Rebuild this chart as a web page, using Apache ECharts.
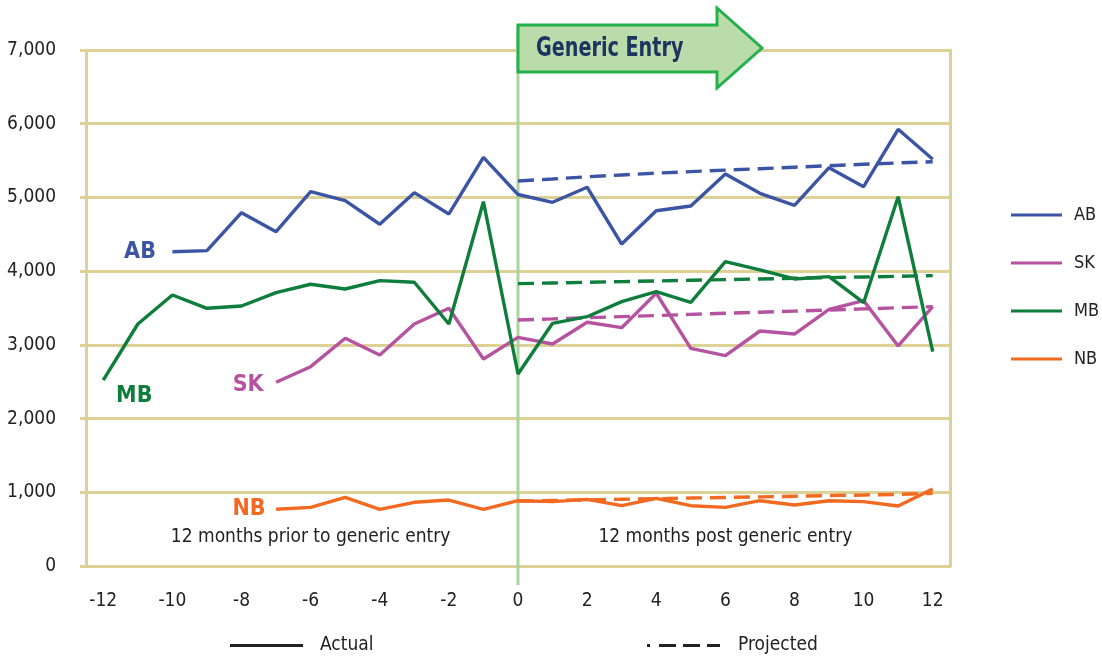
<!DOCTYPE html>
<html>
<head>
<meta charset="utf-8">
<script src="https://cdn.jsdelivr.net/npm/echarts@6/dist/echarts.min.js"></script>
<style>
  html, body { margin: 0; padding: 0; background: #fff; }
  #chart { width: 1102px; height: 656px; }
</style>
</head>
<body>
<div id="chart"></div>
<script>
// months relative to generic entry
const months = ['-12','-11','-10','-9','-8','-7','-6','-5','-4','-3','-2','-1','0','1','2','3','4','5','6','7','8','9','10','11','12']
const yTicks = [0, 1000, 2000, 3000, 4000, 5000, 6000, 7000]

// actual values (null = no data)
const abActual = [null, null, 4264, 4278, 4793, 4535, 5078, 4956, 4636, 5065, 4776, 5544, 5040, 4934, 5138, 4368, 4820, 4884, 5318, 5056, 4893, 5404, 5146, 5924, 5517]
const skActual = [null, null, null, null, null, 2492, 2704, 3089, 2863, 3283, 3496, 2808, 3102, 3012, 3306, 3233, 3700, 2953, 2853, 3188, 3147, 3482, 3600, 2985, 3518]
const mbActual = [2523, 3283, 3676, 3496, 3527, 3708, 3822, 3758, 3871, 3849, 3283, 4942, 2605, 3292, 3382, 3586, 3722, 3577, 4128, 4016, 3894, 3925, 3572, 5010, 2907]
const nbActual = [null, null, null, null, null, 769, 796, 932, 769, 864, 895, 769, 886, 873, 904, 818, 918, 818, 796, 886, 828, 886, 873, 814, 1045]

// projected values (only after entry)
const abProj = [null, null, null, null, null, null, null, null, null, null, null, null, 5223, 5250, 5280, 5305, 5330, 5350, 5370, 5390, 5410, 5430, 5450, 5468, 5485]
const skProj = [null, null, null, null, null, null, null, null, null, null, null, null, 3337, 3352, 3368, 3383, 3398, 3413, 3428, 3443, 3458, 3473, 3488, 3503, 3518]
const mbProj = [null, null, null, null, null, null, null, null, null, null, null, null, 3830, 3840, 3849, 3858, 3867, 3876, 3885, 3894, 3903, 3912, 3921, 3930, 3939]
const nbProj = [null, null, null, null, null, null, null, null, null, null, null, null, 880, 888, 897, 905, 913, 922, 930, 938, 947, 955, 963, 972, 986]

const colors = { AB: '#3b55a4', SK: '#b653a0', MB: '#0f7d3b', NB: '#f26a22' }
const grid = '#ddd196'
const font = "'DejaVu Sans Condensed', 'Liberation Sans Narrow', sans-serif"

// put a name label on the first point of a series
function withLabel (arr, name, label) {
  let done = false
  return arr.map(v => {
    if (v == null || done) return v
    done = true
    return {
      value: v,
      label: Object.assign({
        show: true,
        formatter: name,
        color: colors[name],
        fontFamily: font,
        fontWeight: 'bold',
        fontSize: 23
      }, label)
    }
  })
}

function actual (name, data, label) {
  return {
    name: name,
    type: 'line',
    data: withLabel(data, name, label),
    symbol: 'circle',
    symbolSize: 1,
    itemStyle: { color: 'rgba(0,0,0,0)' },
    lineStyle: { color: colors[name], width: 3.4 },
    z: 3
  }
}

function projected (name, data) {
  return {
    name: name + ' projected',
    type: 'line',
    data: data,
    symbol: 'none',
    lineStyle: { color: colors[name], width: 3.4, type: [16, 8] },
    z: 2
  }
}

const myChart = echarts.init(document.getElementById('chart'))

myChart.setOption({
  animation: false,
  textStyle: { fontFamily: font },
  grid: { left: 86, right: 152, top: 50, bottom: 90 },
  legend: [
    {
      data: ['AB', 'SK', 'MB', 'NB'].map(n => ({ name: n, itemStyle: { color: colors[n] } })),
      orient: 'vertical',
      left: 1006,
      top: 201,
      icon: 'rect',
      itemWidth: 51,
      itemHeight: 3,
      itemGap: 30,
      textStyle: { fontSize: 18, color: '#222', fontFamily: font, padding: [0, 0, 0, 7] }
    },
    {
      data: [{ name: 'Actual', itemStyle: { color: '#222' } }],
      left: 225,
      top: 631,
      icon: 'rect',
      itemWidth: 73,
      itemHeight: 3,
      textStyle: { fontSize: 19, color: '#222', fontFamily: font, padding: [0, 0, 0, 12] }
    },
    {
      data: [{ name: 'Projected', itemStyle: { color: '#222' } }],
      left: 642,
      top: 631,
      icon: 'path://M0,0h3v3h-3z M12,0h17v3h-17z M36,0h17v3h-17z M60,0h13v3h-13z',
      itemWidth: 73,
      itemHeight: 3,
      textStyle: { fontSize: 19, color: '#222', fontFamily: font, padding: [0, 0, 0, 13] }
    }
  ],
  xAxis: {
    type: 'category',
    data: months,
    boundaryGap: true,
    axisLine: { lineStyle: { color: grid, width: 3 } },
    axisTick: { interval: 0, length: 13, lineStyle: { color: grid, width: 2 } },
    axisLabel: { interval: 1, margin: 26, fontSize: 19, color: '#222', fontFamily: font },
    splitLine: { show: false }
  },
  yAxis: [
    {
      type: 'value',
      min: yTicks[0],
      max: yTicks[yTicks.length - 1],
      interval: 1000,
      axisLine: { show: true, lineStyle: { color: grid, width: 3 } },
      axisTick: { show: true, length: 6, lineStyle: { color: grid, width: 3 } },
      axisLabel: {
        margin: 30,
        fontSize: 19,
        color: '#222',
        fontFamily: font,
        formatter: v => v.toString().replace(/\B(?=(\d{3})+(?!\d))/g, ',')
      },
      splitLine: { lineStyle: { color: grid, width: 3 } }
    },
    {
      type: 'value',
      position: 'right',
      min: yTicks[0],
      max: yTicks[yTicks.length - 1],
      interval: 1000,
      axisLine: { show: true, lineStyle: { color: grid, width: 3 } },
      axisTick: { show: false },
      axisLabel: { show: false },
      splitLine: { show: false }
    }
  ],
  series: [
    actual('AB', abActual, { position: 'left', distance: 16 }),
    actual('SK', skActual, { position: 'left', distance: 12, offset: [0, 3] }),
    actual('MB', mbActual, { position: 'bottom', distance: 4, offset: [31, 0] }),
    actual('NB', nbActual, { position: 'left', distance: 10 }),
    projected('AB', abProj),
    projected('SK', skProj),
    projected('MB', mbProj),
    projected('NB', nbProj),
    // legend-only series
    { name: 'Actual', type: 'line', data: [], symbol: 'none', lineStyle: { color: '#222', width: 3 } },
    { name: 'Projected', type: 'line', data: [], symbol: 'none', lineStyle: { color: '#222', width: 3, type: [13, 7] } }
  ]
})

// annotations placed from axis positions
const x0 = myChart.convertToPixel({ xAxisIndex: 0 }, '0')
const xPrior = myChart.convertToPixel({ xAxisIndex: 0 }, '-6')
const xPost = myChart.convertToPixel({ xAxisIndex: 0 }, '6')

myChart.setOption({
  graphic: [
    {
      type: 'line',
      shape: { x1: x0, y1: 25, x2: x0, y2: 585 },
      style: { stroke: '#a7d59c', lineWidth: 3 },
      z: 1
    },
    {
      type: 'polygon',
      shape: {
        points: [[x0, 25], [x0 + 199, 25], [x0 + 199, 8], [x0 + 244, 48], [x0 + 199, 88], [x0 + 199, 72], [x0, 72]]
      },
      style: { fill: '#badcab', stroke: '#23b14b', lineWidth: 3 },
      z: 10
    },
    {
      type: 'text',
      x: x0 + 18,
      y: 49,
      scaleX: 0.82,
      style: {
        text: 'Generic Entry',
        font: "bold 26px 'DejaVu Sans Condensed', sans-serif",
        fill: '#1e3460',
        textVerticalAlign: 'middle'
      },
      z: 11
    },
    {
      type: 'text',
      x: xPrior,
      y: 537,
      style: {
        text: '12 months prior to generic entry',
        font: "19px 'DejaVu Sans Condensed', sans-serif",
        fill: '#222',
        textAlign: 'center',
        textVerticalAlign: 'middle'
      },
      z: 5
    },
    {
      type: 'text',
      x: xPost,
      y: 537,
      style: {
        text: '12 months post generic entry',
        font: "19px 'DejaVu Sans Condensed', sans-serif",
        fill: '#222',
        textAlign: 'center',
        textVerticalAlign: 'middle'
      },
      z: 5
    }
  ]
})
</script>
</body>
</html>
